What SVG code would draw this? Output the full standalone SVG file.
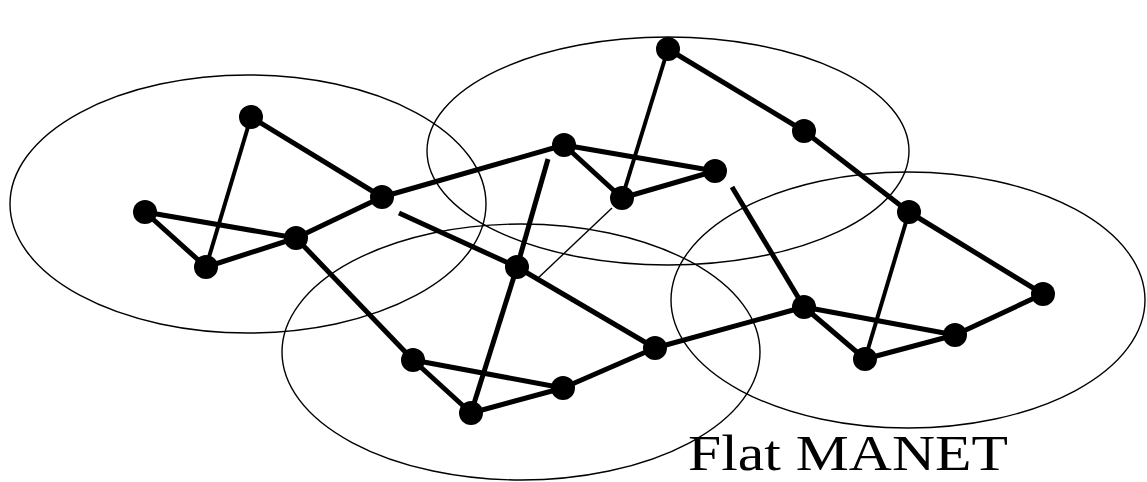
<svg xmlns="http://www.w3.org/2000/svg" width="1147" height="482" viewBox="0 0 1147 482">
<style>
.rng{fill:none;stroke:#000;stroke-width:1.4}
.e{stroke:#000;stroke-width:5;stroke-linecap:butt}
.t{stroke:#000;stroke-width:4}
.h{stroke:#000;stroke-width:1.4}
.n{fill:#000}
.lbl{font-family:"Liberation Serif","Times New Roman",serif;font-size:50px;fill:#000}
</style>
<rect width="1147" height="482" fill="#fff"/>
<g id="ranges">
<ellipse class="rng" cx="248" cy="204" rx="238" ry="129"/>
<ellipse class="rng" cx="668" cy="151" rx="241" ry="114"/>
<ellipse class="rng" cx="521" cy="352" rx="239" ry="128"/>
<ellipse class="rng" cx="908" cy="300" rx="237" ry="128"/>
</g>
<g id="connectors">
<line class="e" x1="251" y1="117" x2="382" y2="197"/>
<line class="t" x1="251" y1="117" x2="206" y2="267"/>
<line class="e" x1="145" y1="212" x2="296" y2="238"/>
<line class="e" x1="145" y1="212" x2="206" y2="267"/>
<line class="e" x1="206" y1="267" x2="296" y2="238"/>
<line class="e" x1="296" y1="238" x2="382" y2="197"/>
<line class="e" x1="382" y1="197" x2="564" y2="145"/>
<line class="e" x1="296" y1="238" x2="413" y2="360"/>
<line class="e" x1="399" y1="213" x2="517" y2="267"/>
<line class="e" x1="564" y1="145" x2="715" y2="171"/>
<line class="e" x1="564" y1="145" x2="622" y2="198"/>
<line class="t" x1="622" y1="198" x2="668" y2="49"/>
<line class="e" x1="668" y1="49" x2="804" y2="131"/>
<line class="e" x1="622" y1="198" x2="715" y2="171"/>
<line class="e" x1="804" y1="131" x2="909" y2="212"/>
<line class="e" x1="548" y1="159" x2="517" y2="267"/>
<line class="e" x1="517" y1="267" x2="471" y2="413"/>
<line class="e" x1="517" y1="267" x2="655" y2="348"/>
<line class="e" x1="732" y1="187" x2="804" y2="307"/>
<line class="e" x1="909" y1="212" x2="1043" y2="294"/>
<line class="t" x1="909" y1="212" x2="865" y2="359"/>
<line class="e" x1="1043" y1="294" x2="955" y2="335"/>
<line class="e" x1="955" y1="335" x2="865" y2="359"/>
<line class="e" x1="804" y1="307" x2="955" y2="335"/>
<line class="e" x1="804" y1="307" x2="865" y2="359"/>
<line class="e" x1="804" y1="307" x2="655" y2="348"/>
<line class="e" x1="655" y1="348" x2="563" y2="388"/>
<line class="e" x1="563" y1="388" x2="471" y2="413"/>
<line class="e" x1="413" y1="360" x2="471" y2="413"/>
<line class="e" x1="413" y1="360" x2="563" y2="388"/>
<line class="h" x1="612" y1="208" x2="536" y2="280"/>
</g>
<g id="n1"><circle class="n" cx="251" cy="117" r="12"/></g>
<g id="n2"><circle class="n" cx="145" cy="212" r="12"/></g>
<g id="n3"><circle class="n" cx="206" cy="267" r="12"/></g>
<g id="n4"><circle class="n" cx="296" cy="238" r="12"/></g>
<g id="n5"><circle class="n" cx="382" cy="197" r="12"/></g>
<g id="n6"><circle class="n" cx="564" cy="145" r="12"/></g>
<g id="n7"><circle class="n" cx="668" cy="49" r="12"/></g>
<g id="n8"><circle class="n" cx="804" cy="131" r="12"/></g>
<g id="n9"><circle class="n" cx="715" cy="171" r="12"/></g>
<g id="n10"><circle class="n" cx="622" cy="198" r="12"/></g>
<g id="n11"><circle class="n" cx="517" cy="267" r="12"/></g>
<g id="n12"><circle class="n" cx="909" cy="212" r="12"/></g>
<g id="n13"><circle class="n" cx="1043" cy="294" r="12"/></g>
<g id="n14"><circle class="n" cx="804" cy="307" r="12"/></g>
<g id="n15"><circle class="n" cx="955" cy="335" r="12"/></g>
<g id="n16"><circle class="n" cx="865" cy="359" r="12"/></g>
<g id="n17"><circle class="n" cx="655" cy="348" r="12"/></g>
<g id="n18"><circle class="n" cx="563" cy="388" r="12"/></g>
<g id="n19"><circle class="n" cx="413" cy="360" r="12"/></g>
<g id="n20"><circle class="n" cx="471" cy="413" r="12"/></g>
<g id="label"><text class="lbl" x="688" y="470" textLength="320" lengthAdjust="spacingAndGlyphs">Flat MANET</text></g>
</svg>
